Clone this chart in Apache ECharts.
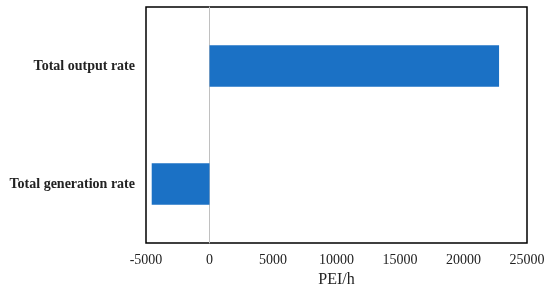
<!DOCTYPE html>
<html><head><meta charset="utf-8">
<script src="https://cdn.jsdelivr.net/npm/echarts@6/dist/echarts.min.js"></script>
<style>html,body{margin:0;padding:0;background:#fff}#c{width:550px;height:289px}</style>
</head><body><div id="c"></div>
<script>
const categories = ['Total generation rate', 'Total output rate'];
const values = [-4550, 22800];
const xTicks = [-5000, 0, 5000, 10000, 15000, 20000, 25000];

const chart = echarts.init(document.getElementById('c'), null, {renderer: 'canvas'});
chart.setOption({
  animation: false,
  grid: {left: 146, right: 23, top: 7, bottom: 46, containLabel: false, outerBoundsMode: 'none',
         show: true, borderColor: '#000', borderWidth: 1.5, backgroundColor: 'transparent'},
  xAxis: {
    type: 'value', min: xTicks[0], max: xTicks[xTicks.length - 1], interval: 5000,
    name: 'PEI/h', nameLocation: 'middle', nameGap: 24,
    nameTextStyle: {fontFamily: 'Liberation Serif', fontSize: 16, color: '#222'},
    axisLine: {show: false}, axisTick: {show: false}, splitLine: {show: false},
    axisLabel: {fontFamily: 'Liberation Serif', fontSize: 14, color: '#222', margin: 10,
                formatter: v => String(v)}
  },
  yAxis: {
    type: 'category', data: categories,
    axisLine: {show: true, onZero: true, lineStyle: {color: '#c0c0c0', width: 1}},
    axisTick: {show: false},
    axisLabel: {fontFamily: 'Liberation Serif', fontWeight: 'bold', fontSize: 14, color: '#222', margin: 11}
  },
  series: [{
    type: 'bar', data: values, barWidth: '35%',
    itemStyle: {color: '#1b71c5'}
  }]
});
</script></body></html>
